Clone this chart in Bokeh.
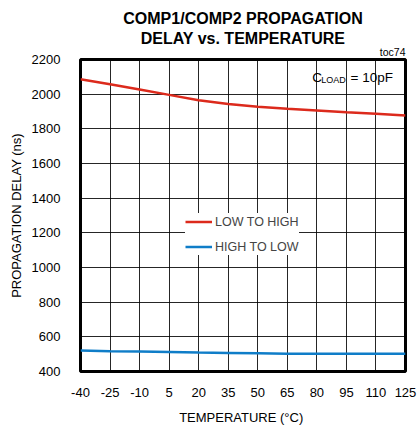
from bokeh.plotting import figure
from bokeh.models import Range1d, FixedTicker, Label, Legend, LegendItem, Title
from bokeh.embed import file_html
from bokeh.resources import INLINE

temps = [-40, -25, -10, 5, 20, 35, 50, 65, 80, 95, 110, 125]
low_to_high = [2086, 2057, 2027, 1996, 1965, 1943, 1928, 1916, 1906, 1896, 1887, 1877]
high_to_low = [521, 517, 515, 512, 509, 507, 505, 503, 503, 503, 503, 503]
x_ticks = [-40, -25, -10, 5, 20, 35, 50, 65, 80, 95, 110, 125]
x_tick_labels = ["-40", "-25", "-10", "5", "20", "35", "50", "65", "80", "95", "110", "125"]
y_ticks = [400, 600, 800, 1000, 1200, 1400, 1600, 1800, 2000, 2200]

FONT = "Liberation Sans"

p = figure(frame_width=325, frame_height=312, output_backend="svg", toolbar_location=None,
           x_range=Range1d(-40, 125), y_range=Range1d(400, 2200),
           min_border_left=80, min_border_top=59, min_border_right=12, min_border_bottom=58)
p.background_fill_color = "white"
p.border_fill_color = "white"
p.outline_line_color = "black"
p.outline_line_width = 3

p.xaxis.ticker = FixedTicker(ticks=x_ticks)
p.yaxis.ticker = FixedTicker(ticks=y_ticks)
p.xaxis.major_label_overrides = {t: s for t, s in zip(x_ticks, x_tick_labels)}
for ax in (p.xaxis, p.yaxis):
    ax.axis_line_color = None
    ax.major_tick_line_color = None
    ax.minor_tick_line_color = None
    ax.major_label_text_font = FONT
    ax.major_label_text_font_size = "13px"
    ax.major_label_text_color = "black"
    ax.axis_label_text_font = FONT
    ax.axis_label_text_font_size = "13px"
    ax.axis_label_text_font_style = "normal"
    ax.axis_label_text_color = "black"
p.xaxis.major_label_standoff = 10
p.yaxis.major_label_standoff = 14
p.xaxis.axis_label = "TEMPERATURE  (°C)"
p.yaxis.axis_label = "PROPAGATION DELAY (ns)"
p.xaxis.axis_label_standoff = 10
p.yaxis.axis_label_standoff = 5

p.xgrid.ticker = FixedTicker(ticks=x_ticks)
p.ygrid.ticker = FixedTicker(ticks=y_ticks)
for g in (p.xgrid, p.ygrid):
    g.grid_line_color = "black"
    g.grid_line_width = 1
    g.grid_line_alpha = 0.85

r1 = p.line(temps, low_to_high, line_color="#dc2a1c", line_width=2.5)
r2 = p.line(temps, high_to_low, line_color="#0f7dc8", line_width=2.5)

legend = Legend(items=[LegendItem(label="LOW TO HIGH", renderers=[r1]),
                       LegendItem(label="HIGH TO LOW", renderers=[r2])],
                location=(105, 116), border_line_color=None, background_fill_color="white",
                background_fill_alpha=1.0, padding=8, margin=0, spacing=8,
                glyph_width=27, glyph_height=17, label_height=17, label_standoff=3,
                label_text_font=FONT, label_text_font_size="12.5px")
p.add_layout(legend, "center")

def lab(text, x, y, size, align="left", baseline="alphabetic", style="normal"):
    p.add_layout(Label(x=x, y=y, x_units="screen", y_units="screen", text=text,
                       text_font=FONT, text_font_size=size, text_align=align,
                       text_baseline=baseline, text_font_style=style, text_color="black"))

lab("C", 231.7, 294, "13.5px")
lab("LOAD", 240.7, 291.5, "9px")
lab("= 10pF", 270, 294, "13.5px")

# titles: closest to the plot first
p.add_layout(Title(text="toc74", align="right", text_font=FONT, text_font_size="10.5px",
                   text_font_style="normal", text_color="black", standoff=3), "above")
p.add_layout(Title(text="DELAY vs. TEMPERATURE", align="center", text_font=FONT,
                   text_font_size="16px", text_font_style="bold", text_color="black",
                   standoff=-8), "above")
p.add_layout(Title(text="COMP1/COMP2 PROPAGATION", align="center", text_font=FONT,
                   text_font_size="16px", text_font_style="bold", text_color="black",
                   standoff=9), "above")

open("out.html", "w").write(file_html(p, INLINE))
